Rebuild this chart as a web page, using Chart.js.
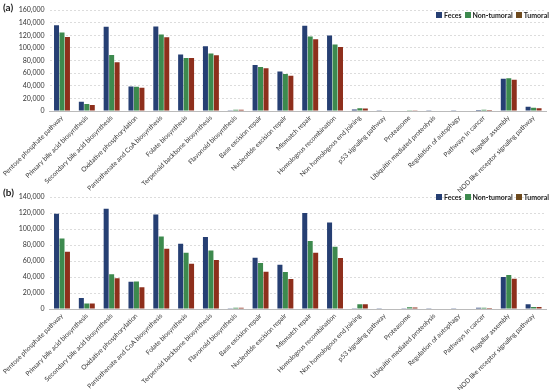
<!DOCTYPE html>
<html>
<head>
<meta charset="utf-8">
<script src="https://cdn.jsdelivr.net/npm/chart.js@4.4.1/dist/chart.umd.min.js"></script>
<style>
  body { margin: 0; background: #fff; width: 550px; height: 390px; overflow: hidden; position: relative; font-family: Lato, "Liberation Sans", sans-serif; }
  .panel { position: absolute; left: 0; width: 550px; }
  .tag { position: absolute; left: 3px; font-weight: bold; font-size: 10px; color: #222; }
  .legend { position: absolute; left: 436px; display: flex; align-items: center; font-size: 7px; font-weight: bold; color: #222; white-space: nowrap; }
  .legend span.item { display: flex; align-items: center; margin-right: 3px; }
  .legend i { display: inline-block; width: 6px; height: 6px; margin-right: 2px; }
</style>
</head>
<body>
<div class="panel" style="top:0;height:194px"><canvas id="chartA" width="550" height="194"></canvas></div>
<div class="panel" style="top:188px;height:202px"><canvas id="chartB" width="550" height="202"></canvas></div>
<div class="tag" style="top:1px">(a)</div>
<div class="tag" style="top:186px">(b)</div>
<div class="legend" id="legendA" style="top:11px"></div>
<div class="legend" id="legendB" style="top:193px"></div>
<script>
// pathway categories (x axis)
const categories = [
  'Pentose phosphate pathway', 'Primary bile acid biosynthesis', 'Secondary bile acid biosynthesis',
  'Oxidative phosphorylation', 'Pantothenate and CoA biosynthesis', 'Folate biosynthesis',
  'Terpenoid backbone biosynthesis', 'Flavonoid biosynthesis', 'Base excision repair',
  'Nucleotide excision repair', 'Mismatch repair', 'Homologous recombination',
  'Non homologous end joining', 'p53 signaling pathway', 'Proteasome',
  'Ubiquitin mediated proteolysis', 'Regulation of autophagy', 'Pathways in cancer',
  'Flagellar assembly', 'NOD like receptor signaling pathway'
];
const seriesNames = ['Feces', 'Non-tumoral', 'Tumoral'];

// panel (a)
const fecesA      = [136000, 14800, 133500, 38800, 134000, 89500, 102500, 1000, 72800, 62400, 135000, 119600, 2300, 500, 700, 400, 400, 1500, 51000, 6900];
const nonTumoralA = [124500, 11000, 88800, 38300, 121300, 84000, 91200, 1800, 69700, 58600, 118000, 105200, 4300, 800, 1200, 700, 600, 1800, 52000, 5300];
const tumoralA    = [117200, 9600, 77200, 36800, 117000, 84000, 88300, 1800, 67600, 55900, 113800, 101200, 3900, 800, 1200, 700, 600, 1500, 49400, 4300];

// panel (b)
const fecesB      = [119300, 13700, 125400, 34000, 118200, 81700, 90300, 800, 64300, 55400, 120300, 108300, 1000, 300, 800, 300, 300, 1500, 40000, 6100];
const nonTumoralB = [88300, 6900, 43400, 34300, 90900, 70300, 73400, 1600, 57500, 46400, 85200, 77900, 5900, 500, 2200, 500, 500, 1500, 42600, 2400];
const tumoralB    = [71600, 6900, 38600, 27100, 75400, 56800, 61500, 1600, 46800, 37600, 70300, 64000, 5900, 500, 2000, 500, 500, 1200, 37800, 2400];

const colors = ['#263F73', '#3D8A4E', '#8E2F1C'];
const legendColors = ['#263F73', '#3D8A4E', '#6E4A1E'];
const fontFamily = 'Lato, "Liberation Sans", sans-serif';

function buildLegend(id) {
  const el = document.getElementById(id);
  seriesNames.forEach((name, i) => {
    const item = document.createElement('span');
    item.className = 'item';
    const box = document.createElement('i');
    box.style.background = legendColors[i];
    item.appendChild(box);
    item.appendChild(document.createTextNode(name));
    el.appendChild(item);
  });
}

function makeChart(id, data, yMax, padTop, plotBottom) {
  const ctx = document.getElementById(id).getContext('2d');
  const canvasH = ctx.canvas.height;
  return new Chart(ctx, {
    type: 'bar',
    data: {
      labels: categories,
      datasets: data.map((vals, i) => ({
        label: seriesNames[i],
        data: vals,
        backgroundColor: colors[i],
        borderWidth: 0,
        categoryPercentage: 0.66,
        barPercentage: 0.92
      }))
    },
    options: {
      responsive: false,
      animation: false,
      layout: { padding: { top: padTop, right: 4, left: 0, bottom: 0 } },
      plugins: {
        legend: { display: false },
        tooltip: { enabled: false }
      },
      scales: {
        x: {
          grid: { display: false, drawTicks: false },
          border: { color: '#bbb' },
          ticks: {
            minRotation: 45, maxRotation: 45, autoSkip: false, padding: 3,
            color: '#333', font: { size: 6.6, family: fontFamily }
          },
          afterFit: s => { s.height = canvasH - plotBottom; }
        },
        y: {
          min: 0, max: yMax,
          grid: { color: '#dcdcdc', drawTicks: false },
          border: { display: false, dash: [2, 2] },
          ticks: {
            stepSize: 20000, padding: 5,
            color: '#333', font: { size: 7, family: fontFamily },
            callback: v => v.toLocaleString('en-US')
          },
          afterFit: s => { s.width = 46; }
        }
      }
    }
  });
}

buildLegend('legendA');
buildLegend('legendB');
makeChart('chartA', [fecesA, nonTumoralA, tumoralA], 160000, 10, 111);
makeChart('chartB', [fecesB, nonTumoralB, tumoralB], 140000, 6, 121);
</script>
</body>
</html>
